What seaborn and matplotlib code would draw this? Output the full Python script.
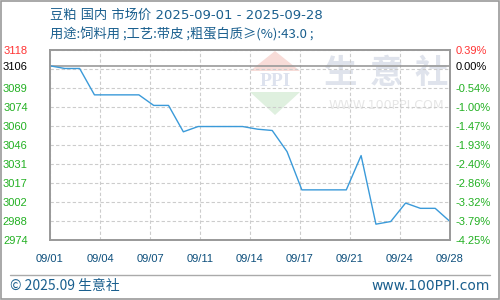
import matplotlib
matplotlib.use("Agg")
import matplotlib.pyplot as plt
import matplotlib.dates as mdates
from matplotlib.patches import Polygon, Rectangle
import seaborn as sns
import pandas as pd
import numpy as np

# ---------------- data ----------------
dates = pd.date_range("2025-09-01", "2025-09-28", freq="D")
prices = [3106, 3104, 3104, 3084, 3084, 3084, 3084, 3076, 3076, 3056,
          3060, 3060, 3060, 3060, 3058, 3057, 3041, 3012, 3012, 3012,
          3012, 3038, 2986, 2988, 3002, 2998, 2998, 2988]
base_price = 3106
y_top, y_bottom = 3118, 2974
left_labels = ["3118", "", "3089", "3074", "3060", "3046", "3031", "3017", "3002", "2988", "2974"]
right_labels = ["0.39%", "", "-0.54%", "-1.00%", "-1.47%", "-1.93%", "-2.40%", "-2.86%", "-3.32%", "-3.79%", "-4.25%"]
base_left_label = "3106"
base_right_label = "0.00%"
x_labels = ["09/01", "09/04", "09/07", "09/11", "09/14", "09/17", "09/21", "09/24", "09/28"]
title = "豆粕 国内 市场价 2025-09-01 - 2025-09-28"
subtitle = "用途:饲料用 ;工艺:带皮 ;粗蛋白质≥(%):43.0 ;"
footer_left = "© 2025.09 生意社"
footer_right = "www.100PPI.com"
watermark = "生意社"
watermark_url = "WWW.100PPI.COM"

df = pd.DataFrame({"date": dates, "price": prices})

# ---------------- style ----------------
sns.set_theme(style="white")
plt.rcParams["font.family"] = ["Noto Sans CJK SC", "DejaVu Sans"]

W, H = 500, 300
fig = plt.figure(figsize=(W / 100, H / 100), dpi=100)
fig.patch.set_facecolor("white")

def fx(px):
    return px / W

def fy(py):
    return 1 - py / H

ax = fig.add_axes([fx(50), fy(240), fx(400), 190 / H])
ax.set_facecolor("white")

sns.lineplot(data=df, x="date", y="price", ax=ax, color="#3a9ad9", linewidth=1.0, zorder=3)

ax.set_ylim(y_bottom, y_top)
x0 = mdates.date2num(dates[0])
x1 = mdates.date2num(dates[-1])
ax.set_xlim(x0, x1)
ax.set_xlabel("")
ax.set_ylabel("")

tick_vals = np.linspace(y_top, y_bottom, len(left_labels))
ax.set_yticks(tick_vals)
ax.set_yticklabels(left_labels)
ax.set_yticks([base_price], minor=True)
ax.set_yticklabels([base_left_label], minor=True)

xt = np.linspace(x0, x1, len(x_labels))
ax.set_xticks(xt)
ax.set_xticklabels(x_labels)

ax.grid(True, which="major", color="#cccccc", linestyle=(0, (3, 2)), linewidth=0.8)
ax.grid(False, which="minor")
ax.axhline(base_price, color="#999999", linewidth=1.2, zorder=2)

for s in ax.spines.values():
    s.set_color("#999999")
    s.set_linewidth(1.2)

ax.tick_params(axis="y", which="both", length=0, pad=16)
ax.tick_params(axis="x", which="major", length=0, pad=10, colors="#0d4f7c")
for lab in ax.get_xticklabels():
    lab.set_fontfamily("Liberation Sans")
    lab.set_fontsize(8)
    lab.set_color("#0d4f7c")

for i, lab in enumerate(ax.get_yticklabels()):
    lab.set_fontfamily("Liberation Sans")
    lab.set_fontsize(8)
    lab.set_color("#ff3333" if i == 0 else "#22b022")
for lab in ax.get_yticklabels(minor=True):
    lab.set_fontfamily("Liberation Sans")
    lab.set_fontsize(8)
    lab.set_color("black")

ax2 = ax.twinx()
ax2.set_ylim(y_bottom, y_top)
ax2.set_yticks(tick_vals)
ax2.set_yticklabels(right_labels)
ax2.set_yticks([base_price], minor=True)
ax2.set_yticklabels([base_right_label], minor=True)
ax2.tick_params(axis="y", which="both", length=0, pad=4)
ax2.grid(False)
for s in ax2.spines.values():
    s.set_color("#999999")
    s.set_linewidth(1.2)
for i, lab in enumerate(ax2.get_yticklabels()):
    lab.set_fontfamily("Liberation Sans")
    lab.set_fontsize(8)
    lab.set_color("#ff3333" if i == 0 else "#22b022")
for lab in ax2.get_yticklabels(minor=True):
    lab.set_fontfamily("Liberation Sans")
    lab.set_fontsize(8)
    lab.set_color("black")

# ---------------- watermark ----------------
tf = fig.transFigure
for k, ch in enumerate(watermark):
    ax.text(fx(341 + 45 * k), fy(73), ch, transform=tf, fontsize=24, color="#dfe3ec",
            ha="center", va="center", fontweight="bold", zorder=0.5, clip_on=False)
ax.text(fx(386), fy(106), watermark_url, transform=tf, fontsize=9, color="#e6e6e6",
        ha="center", va="center", family="DejaVu Sans", zorder=0.5, clip_on=False)
tri_top = Polygon([(fx(250), fy(71)), (fx(275), fy(51)), (fx(300), fy(71))], closed=True,
                  transform=tf, facecolor="#f8dcd8", edgecolor="none", zorder=0.4)
tri_bot = Polygon([(fx(250), fy(92)), (fx(275), fy(115)), (fx(300), fy(92))], closed=True,
                  transform=tf, facecolor="#dff0df", edgecolor="none", zorder=0.4)
ax.add_artist(tri_top)
ax.add_artist(tri_bot)
ax.text(fx(275), fy(82), "PPI", transform=tf, fontsize=14, color="#dde2ee", ha="center",
        va="center", family="Liberation Serif", fontweight="bold", zorder=0.5, clip_on=False)

# ---------------- titles & footer ----------------
fig.text(fx(50), fy(15), title, fontsize=9.5, color="#1a5f8e", ha="left", va="center",
         family=["DejaVu Sans", "Noto Sans CJK SC"])
fig.text(fx(50), fy(34), subtitle, fontsize=9.5, color="#1a5f8e", ha="left", va="center")

fig.add_artist(plt.Line2D([fx(10), fx(490)], [fy(275), fy(275)], transform=tf,
                          color="#aaaaaa", linewidth=1.0))
fig.text(fx(10), fy(286), footer_left, fontsize=10, color="#1a5f8e", ha="left", va="center")
fig.text(fx(490), fy(286), footer_right, fontsize=10, color="#1a5f8e", ha="right", va="center",
         family="DejaVu Sans")
fig.add_artist(Rectangle((0.001, 0.002), 0.997, 0.996, transform=tf, fill=False,
                         edgecolor="#999999", linewidth=1.2))

fig.savefig("out.png", dpi=100)
